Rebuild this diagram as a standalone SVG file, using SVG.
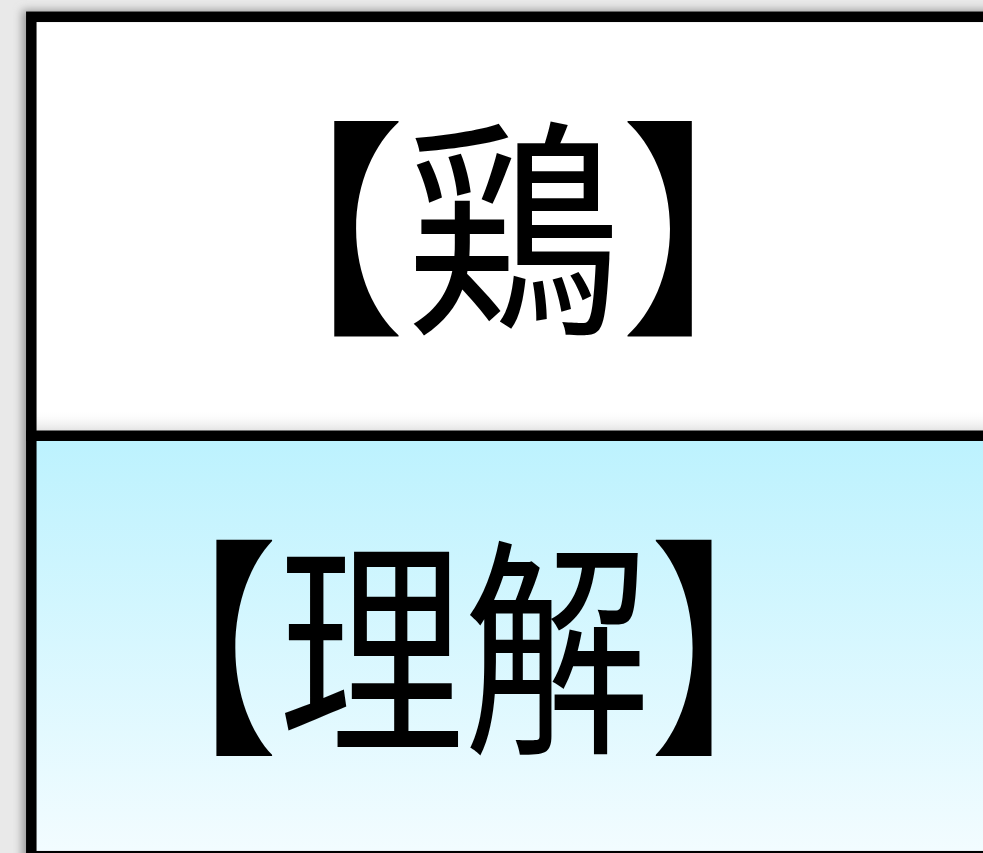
<svg xmlns="http://www.w3.org/2000/svg" width="983" height="853" viewBox="0 0 983 853">
<style>
.t{font-family:"Noto Sans CJK JP","Noto Sans CJK SC",sans-serif;fill:#000;text-anchor:middle}
</style>
<defs>
<linearGradient id="blue" x1="0" y1="0" x2="0" y2="1">
<stop offset="0" stop-color="#bcf2fe"/>
<stop offset="1" stop-color="#f3fcff"/>
</linearGradient>
<linearGradient id="shade" x1="0" y1="0" x2="0" y2="1">
<stop offset="0" stop-color="#ffffff" stop-opacity="0"/>
<stop offset="1" stop-color="#e2e2e2"/>
</linearGradient>
<filter id="blur" x="-0.1" y="-0.1" width="1.2" height="1.2">
<feGaussianBlur stdDeviation="4"/>
</filter>
</defs>
<rect width="983" height="853" fill="#e9e9e9"/>
<rect x="22" y="10" width="1000" height="900" fill="#9a9a9a" filter="url(#blur)"/>
<g id="top">
<rect x="31" y="17" width="980" height="419" fill="#ffffff"/>
<rect x="36" y="410" width="960" height="21" fill="url(#shade)"/>
<text class="t" transform="translate(513,316) scale(0.928,1)" x="0" y="0" font-size="231">【鶏】</text>
</g>
<g id="bottom">
<rect x="31" y="436" width="980" height="420" fill="url(#blue)"/>
<text class="t" transform="translate(464,735.5) scale(0.80,1)" x="0" y="0" font-size="232">【理解】</text>
</g>
<g id="frame" fill="none" stroke="#000" stroke-width="10.5">
<rect x="31.3" y="16.8" width="1000" height="839.4"/>
<line x1="26" y1="435.8" x2="1040" y2="435.8"/>
</g>
</svg>
